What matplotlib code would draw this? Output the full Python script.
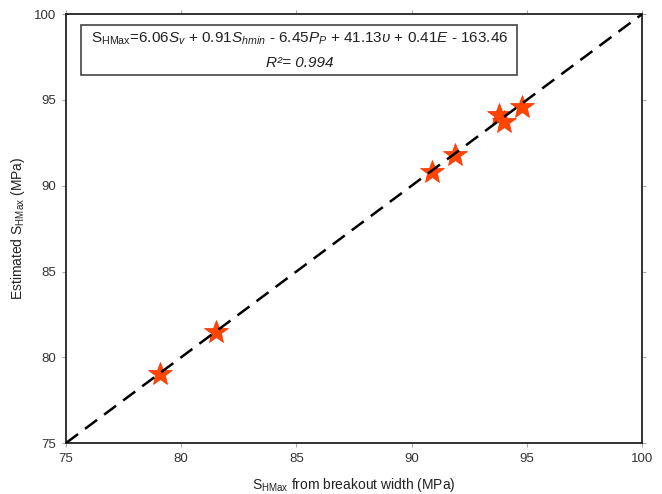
import numpy as np
import matplotlib
matplotlib.use('Agg')
import matplotlib.pyplot as plt
from matplotlib.patches import Rectangle

plt.rcParams['font.family'] = ['Liberation Sans', 'DejaVu Sans']
plt.rcParams['mathtext.fontset'] = 'custom'
plt.rcParams['mathtext.rm'] = 'Liberation Sans'
plt.rcParams['mathtext.it'] = 'Liberation Sans:italic'
plt.rcParams['mathtext.bf'] = 'Liberation Sans:bold'

# breakout-width SHMax vs estimated SHMax (MPa)
shmax_breakout = [79.1, 81.5, 90.9, 91.9, 93.8, 94.0, 94.8]
shmax_estimated = [79.0, 81.5, 90.8, 91.8, 94.1, 93.7, 94.6]
ticks = [75, 80, 85, 90, 95, 100]

fig = plt.figure(figsize=(6.62, 4.94), dpi=100)
ax = fig.add_axes([0.0997, 0.1032, 0.870, 0.868])

ax.plot(shmax_breakout, shmax_estimated, linestyle='none', marker='*',
        ms=18, color='#ff4500', mec='#ff3000', mew=0.5, zorder=2)
ax.plot([75, 100], [75, 100], color='black', lw=1.8, ls=(0, (6, 3.5)), zorder=3)

ax.set_xlim(75, 100); ax.set_ylim(75, 100)
ax.set_xticks(ticks); ax.set_yticks(ticks)
ax.tick_params(direction='out', top=True, right=True, length=3, width=0.8,
               color='#aaaaaa', labelcolor='#333333', labelsize=9.5, pad=4)
for s in ax.spines.values():
    s.set_linewidth(1.3)
    s.set_color('#222222')

ax.set_xlabel(r'S$_{\mathrm{HMax}}$ from breakout width (MPa)', fontsize=10,
              color='#222222', labelpad=8)
ax.set_ylabel(r'Estimated S$_{\mathrm{HMax}}$ (MPa)', fontsize=10, color='#222222',
              labelpad=5)

ax.add_patch(Rectangle((0.026, 0.858), 0.757, 0.116, transform=ax.transAxes,
                       fill=False, edgecolor='#444444', lw=1.2, zorder=4))
eq = (r'S$_{\mathrm{HMax}}$=6.06$\mathit{S}_{v}$ + 0.91$\mathit{S}_{hmin}$'
      r' - 6.45$\mathit{P}_{P}$ + 41.13$\mathit{\upsilon}$ + 0.41$\mathit{E}$ - 163.46')
ax.text(0.405, 0.942, eq, transform=ax.transAxes, ha='center', va='center',
        fontsize=11, color='#222222')
ax.text(0.405, 0.886, 'R²= 0.994', transform=ax.transAxes, style='italic',
        ha='center', va='center', fontsize=11, color='#222222')

fig.savefig('out.png', dpi=100)
